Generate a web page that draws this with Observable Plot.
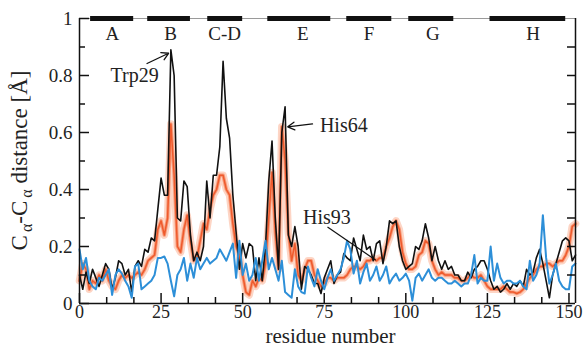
<!DOCTYPE html>
<html>
<head>
<meta charset="utf-8">
<script src="https://cdn.jsdelivr.net/npm/d3@7"></script>
<script src="https://cdn.jsdelivr.net/npm/@observablehq/plot@0.6"></script>
<style>
  html, body { margin: 0; padding: 0; background: #fff; }
  #chart { width: 586px; height: 350px; }
  #chart svg, #chart svg text { font-family: "Liberation Serif", "DejaVu Serif", serif; }
</style>
</head>
<body>
<div id="chart"></div>
<script>
// ---------- data ----------
const residues = d3.range(0, 153);
const blackVals = [
  0.10,0.05,0.11,0.07,0.12,0.09,0.06,0.10,0.14,0.12,
  0.05,0.09,0.15,0.14,0.10,0.12,0.04,0.13,0.15,0.13,
  0.19,0.18,0.23,0.22,0.33,0.44,0.38,0.38,0.89,0.80,
  0.30,0.29,0.43,0.41,0.24,0.15,0.18,0.15,0.20,0.43,
  0.30,0.45,0.45,0.55,0.85,0.65,0.58,0.38,0.25,0.12,
  0.21,0.16,0.21,0.20,0.08,0.16,0.08,0.20,0.43,0.57,
  0.30,0.12,0.60,0.69,0.24,0.20,0.27,0.20,0.05,0.13,
  0.12,0.10,0.07,0.07,0.035,0.09,0.12,0.15,0.07,0.10,
  0.11,0.175,0.16,0.15,0.23,0.19,0.15,0.24,0.19,0.20,
  0.15,0.21,0.22,0.14,0.20,0.29,0.28,0.29,0.20,0.15,
  0.12,0.13,0.14,0.20,0.19,0.22,0.28,0.23,0.15,0.20,
  0.15,0.12,0.15,0.12,0.13,0.10,0.10,0.08,0.08,0.11,
  0.09,0.12,0.13,0.15,0.15,0.12,0.08,0.05,0.06,0.04,
  0.05,0.07,0.05,0.07,0.06,0.08,0.06,0.12,0.10,0.11,
  0.16,0.19,0.14,0.08,0.02,0.10,0.14,0.18,0.22,0.23,
  0.22,0.15,0.17
];
const orangeVals = [
  0.08,0.14,0.12,0.05,0.08,0.07,0.10,0.08,0.12,0.08,
  0.06,0.05,0.08,0.10,0.09,0.10,0.09,0.10,0.11,0.10,
  0.12,0.15,0.16,0.17,0.26,0.29,0.24,0.30,0.63,0.45,
  0.20,0.18,0.26,0.31,0.22,0.15,0.16,0.22,0.28,0.26,
  0.33,0.38,0.40,0.45,0.45,0.40,0.38,0.28,0.20,0.17,
  0.10,0.04,0.03,0.08,0.06,0.09,0.08,0.14,0.30,0.46,
  0.25,0.12,0.62,0.50,0.25,0.15,0.21,0.10,0.08,0.12,
  0.15,0.15,0.10,0.08,0.06,0.07,0.09,0.09,0.08,0.09,
  0.09,0.09,0.10,0.12,0.13,0.13,0.12,0.13,0.15,0.15,
  0.16,0.15,0.16,0.16,0.20,0.23,0.27,0.29,0.26,0.18,
  0.14,0.12,0.12,0.13,0.17,0.18,0.22,0.21,0.15,0.12,
  0.10,0.11,0.10,0.10,0.10,0.09,0.09,0.08,0.08,0.09,
  0.10,0.09,0.09,0.10,0.08,0.06,0.05,0.05,0.05,0.05,
  0.06,0.05,0.04,0.04,0.035,0.04,0.05,0.07,0.09,0.10,
  0.12,0.13,0.13,0.14,0.14,0.13,0.14,0.15,0.15,0.17,
  0.20,0.27,0.28
];
const blueVals = [
  0.19,0.12,0.16,0.08,0.06,0.05,0.09,0.08,0.10,0.12,
  0.03,0.10,0.12,0.105,0.08,0.06,0.02,0.13,0.14,0.05,
  0.06,0.07,0.08,0.10,0.16,0.16,0.165,0.14,0.08,0.025,
  0.10,0.12,0.16,0.08,0.14,0.09,0.16,0.12,0.14,0.16,
  0.14,0.15,0.16,0.19,0.17,0.15,0.18,0.21,0.09,0.22,
  0.10,0.14,0.08,0.10,0.16,0.08,0.15,0.22,0.12,0.16,
  0.12,0.08,0.15,0.04,0.03,0.02,0.12,0.06,0.04,0.035,
  0.13,0.09,0.06,0.12,0.08,0.05,0.09,0.12,0.08,0.10,
  0.12,0.16,0.22,0.19,0.105,0.15,0.07,0.11,0.14,0.08,
  0.10,0.13,0.08,0.10,0.13,0.07,0.09,0.105,0.08,0.09,
  0.105,0.08,0.01,0.09,0.105,0.08,0.10,0.12,0.09,0.08,
  0.09,0.09,0.08,0.07,0.07,0.08,0.07,0.06,0.07,0.07,
  0.10,0.17,0.07,0.09,0.08,0.08,0.20,0.08,0.14,0.09,
  0.07,0.08,0.08,0.07,0.07,0.08,0.06,0.05,0.15,0.08,
  0.10,0.14,0.31,0.16,0.07,0.10,0.14,0.08,0.06,0.05,
  0.05,0.13,0.14
];

const helixNames = ["A", "B", "C-D", "E", "F", "G", "H"];
const helixStart = [3.4, 20.9, 39.3, 57.7, 81.9, 100.9, 125.8];
const helixEnd   = [16.6, 34.0, 50.0, 77.0, 95.7, 114.7, 149.0];
const helixLabelX = [10.1, 27.9, 44.5, 68.4, 88.7, 108.3, 139.0];
const helixLabelY = 0.945;

const annoLabels = ["Trp29", "His64", "His93"];
const annoX = [16.9, 81.0, 75.8];
const annoY = [0.800, 0.625, 0.300];
const arrowFromX = [20.7, 71.4];
const arrowFromY = [0.842, 0.630];
const arrowToX   = [27.3, 63.8];
const arrowToY   = [0.878, 0.620];
const leaderFromX = [76.0];
const leaderFromY = [0.268];
const leaderToX = [90.8];
const leaderToY = [0.152];

const xDomain = [0, 152];
const yDomain = [0, 1];
const xMajor = [0, 25, 50, 75, 100, 125, 150];
const xMinor = d3.range(0, 152, 25 / 3).filter((v, i) => i % 3 !== 0);
const yMajor = [0, 0.2, 0.4, 0.6, 0.8, 1];
const yMinor = [0.1, 0.3, 0.5, 0.7, 0.9];
const yAll = [0.1, 0.2, 0.3, 0.4, 0.5, 0.6, 0.7, 0.8, 0.9];
const xLabel = "residue number";

// ---------- build ----------
const rows = residues.map((r, i) => ({r, k: blackVals[i], o: orangeVals[i], b: blueVals[i]}));
const helices = helixNames.map((n, i) => ({n, x1: helixStart[i], x2: helixEnd[i], lx: helixLabelX[i]}));
const annos = annoLabels.map((t, i) => ({t, x: annoX[i], y: annoY[i]}));
const arrows = arrowFromX.map((v, i) => ({x1: v, y1: arrowFromY[i], x2: arrowToX[i], y2: arrowToY[i]}));
const leaders = leaderFromX.map((v, i) => ({x1: v, y1: leaderFromY[i], x2: leaderToX[i], y2: leaderToY[i]}));

const W = 586, H = 350, mL = 79, mR = 11, mT = 18, mB = 47;
const plotW = W - mL - mR, plotH = H - mT - mB;
const serif = "Liberation Serif, DejaVu Serif, serif";

const chart = Plot.plot({
  width: W, height: H,
  marginLeft: mL, marginRight: mR, marginTop: mT, marginBottom: mB,
  x: {domain: xDomain},
  y: {domain: yDomain},
  style: {fontFamily: serif, fontSize: "19px", background: "#fff", color: "#222"},
  marks: [
    // data lines
    Plot.line(rows, {x: "r", y: "o", stroke: "#fccab6", strokeWidth: 7.5, strokeOpacity: 0.8}),
    Plot.line(rows, {x: "r", y: "o", stroke: "#f6916c", strokeWidth: 3.4, strokeOpacity: 0.85}),
    Plot.line(rows, {x: "r", y: "o", stroke: "#ef5a2c", strokeWidth: 1.5}),
    Plot.line(rows, {x: "r", y: "k", stroke: "#111", strokeWidth: 1.6}),
    Plot.line(rows, {x: "r", y: "b", stroke: "#2d8fd8", strokeWidth: 2}),
    // frame
    Plot.ruleY([yDomain[1]], {stroke: "#9a9a9a", strokeWidth: 1.2}),
    Plot.ruleY([yDomain[0]], {stroke: "#111", strokeWidth: 1.5}),
    Plot.ruleX([xDomain[0]], {stroke: "#111", strokeWidth: 1.5}),
    Plot.ruleX([xDomain[1]], {stroke: "#111", strokeWidth: 1.5}),
    // helix bars
    Plot.ruleY(helices, {x1: "x1", x2: "x2", y: () => yDomain[1], stroke: "#111", strokeWidth: 5}),
    Plot.text(helices, {x: "lx", y: () => helixLabelY, text: "n", fontSize: 19, fill: "#222"}),
    // inward ticks
    Plot.tickX(xMajor, {x: d => d, insetTop: plotH - 10, stroke: "#111", strokeWidth: 1.5}),
    Plot.tickX(xMinor, {x: d => d, insetTop: plotH - 6, stroke: "#111", strokeWidth: 1.5}),
    Plot.tickY(yMajor, {y: d => d, insetRight: plotW - 10, stroke: "#111", strokeWidth: 1.5}),
    Plot.tickY(yMinor, {y: d => d, insetRight: plotW - 6, stroke: "#111", strokeWidth: 1.5}),
    Plot.tickY(yAll, {y: d => d, insetLeft: plotW - 8, stroke: "#111", strokeWidth: 1.5}),
    // axes (labels only)
    Plot.axisX({ticks: xMajor, tickSize: 0, tickPadding: 2, tickFormat: d => String(d), label: null, fontSize: 18}),
    Plot.axisY({ticks: yMajor, tickSize: 0, tickPadding: 7, tickFormat: d => String(d), label: null, fontSize: 19}),
    Plot.text([xLabel], {text: d => d, frameAnchor: "bottom", dy: 39, dx: 3, fontSize: 21, fill: "#222"}),
    // annotations
    Plot.arrow(arrows, {x1: "x1", y1: "y1", x2: "x2", y2: "y2", stroke: "#111", strokeWidth: 1.3, headLength: 9}),
    Plot.link(leaders, {x1: "x1", y1: "y1", x2: "x2", y2: "y2", stroke: "#111", strokeWidth: 1.2}),
    Plot.text(annos, {x: "x", y: "y", text: "t", fontSize: 20, fill: "#222"})
  ]
});

// y-axis title with subscripts
const svg = d3.select(chart);
const t = svg.append("text")
  .attr("transform", `translate(27,${mT + plotH / 2}) rotate(-90)`)
  .attr("text-anchor", "middle")
  .attr("font-family", serif)
  .attr("font-size", 23)
  .attr("fill", "#222");
t.append("tspan").text("C");
t.append("tspan").attr("font-size", 16).attr("dy", 5).attr("dx", 3).text("α");
t.append("tspan").attr("dy", -5).text("-C");
t.append("tspan").attr("font-size", 16).attr("dy", 5).attr("dx", 3).text("α");
t.append("tspan").attr("dy", -5).text(" distance [Å]");

document.getElementById("chart").appendChild(chart);
</script>
</body>
</html>
